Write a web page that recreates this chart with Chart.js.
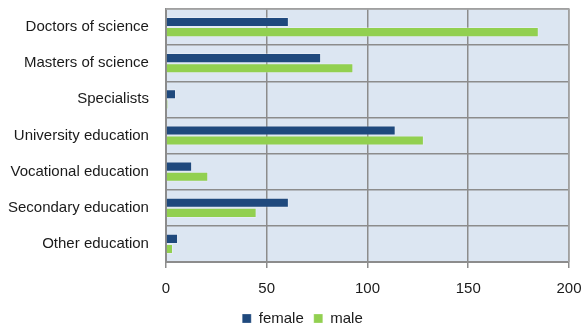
<!DOCTYPE html>
<html>
<head>
<meta charset="utf-8">
<script src="https://cdn.jsdelivr.net/npm/chart.js@4.4.1/dist/chart.umd.min.js"></script>
<style>
  html, body { margin: 0; padding: 0; background: #ffffff; }
  #wrap { width: 584px; height: 325px; position: relative; }
</style>
</head>
<body>
<div id="wrap"><canvas id="chart" width="584" height="325"></canvas></div>
<script>
// Education level by sex
const categories = [
  'Doctors of science',
  'Masters of science',
  'Specialists',
  'University education',
  'Vocational education',
  'Secondary education',
  'Other education'
];
const femaleValues = [61, 77, 5, 114, 13, 61, 6];
const maleValues = [185, 93, 1, 128, 21, 45, 3.5];
const xTicks = [0, 50, 100, 150, 200];

const FONT = '"Liberation Sans Narrow", "Arial Narrow", "Liberation Sans", Arial, sans-serif';

// Light blue fill behind the plot and a thin frame around it
const plotBackground = {
  id: 'plotBackground',
  beforeDraw(chart) {
    const { ctx, chartArea: a } = chart;
    ctx.save();
    ctx.fillStyle = '#dce6f2';
    ctx.fillRect(a.left, a.top, a.right - a.left, a.bottom - a.top);
    ctx.restore();
  },
  afterDatasetsDraw(chart) {
    const { ctx, chartArea: a } = chart;
    ctx.save();
    ctx.strokeStyle = '#a6a6a6';
    ctx.lineWidth = 1.5;
    ctx.beginPath();
    ctx.moveTo(a.left, a.top);
    ctx.lineTo(a.right, a.top);
    ctx.lineTo(a.right, a.bottom);
    ctx.stroke();
    ctx.restore();
  }
};

// Nudge the legend to the right of the canvas centre
const legendShift = {
  id: 'legendShift',
  afterLayout(chart) {
    if (chart.legend) {
      chart.legend.left += 36;
    }
  }
};

new Chart(document.getElementById('chart'), {
  type: 'bar',
  data: {
    labels: categories,
    datasets: [
      {
        label: 'female',
        data: femaleValues,
        backgroundColor: '#1f497d',
        borderColor: 'rgba(255,255,255,0.25)',
        borderWidth: 1,
        categoryPercentage: 0.56,
        barPercentage: 1
      },
      {
        label: 'male',
        data: maleValues,
        backgroundColor: '#92d050',
        borderColor: 'rgba(255,255,255,0.25)',
        borderWidth: 1,
        categoryPercentage: 0.56,
        barPercentage: 1
      }
    ]
  },
  options: {
    indexAxis: 'y',
    responsive: false,
    animation: false,
    devicePixelRatio: 1,
    layout: { padding: { top: 9, right: 15, left: 0, bottom: -11 } },
    plugins: {
      tooltip: { enabled: false },
      legend: {
        position: 'bottom',
        labels: {
          boxWidth: 9,
          boxHeight: 9,
          padding: 10,
          color: '#1a1a1a',
          font: { family: FONT, size: 15 }
        }
      }
    },
    scales: {
      x: {
        min: 0,
        max: 200,
        afterBuildTicks(scale) {
          scale.ticks = xTicks.map(v => ({ value: v }));
        },
        afterFit(scale) {
          scale.paddingLeft = 0;
          scale.paddingRight = 0;
          scale.height = 39;
        },
        ticks: {
          color: '#1a1a1a',
          padding: 12,
          maxRotation: 0,
          font: { family: FONT, size: 15 }
        },
        grid: {
          color: '#8c8c8c',
          lineWidth: 1.5,
          tickLength: 6,
          drawTicks: true
        },
        border: { color: '#8c8c8c', width: 2 }
      },
      y: {
        afterFit(scale) {
          scale.paddingTop = 0;
          scale.paddingBottom = 0;
          scale.width -= 9;
        },
        ticks: {
          color: '#1a1a1a',
          padding: 17,
          font: { family: FONT, size: 15 }
        },
        grid: {
          color: '#8c8c8c',
          lineWidth: 1.5,
          offset: true,
          drawTicks: false
        },
        border: { color: '#8c8c8c', width: 2 }
      }
    }
  },
  plugins: [plotBackground, legendShift]
});
</script>
</body>
</html>
